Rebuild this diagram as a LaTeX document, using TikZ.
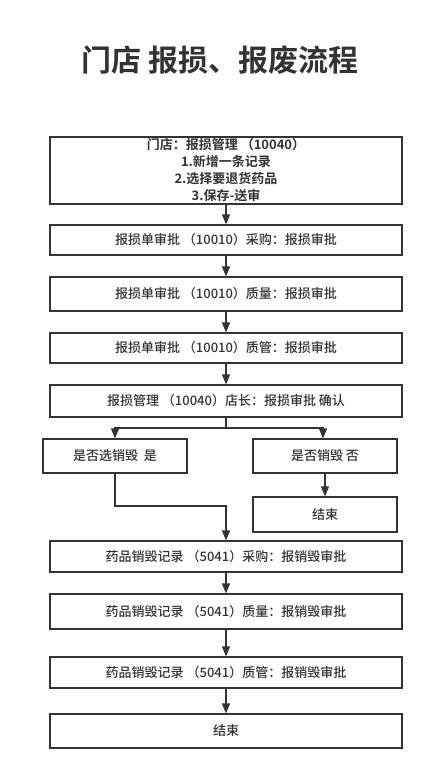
\documentclass[tikz,border=0pt]{standalone}
\usepackage{fontspec}
\setmainfont{Noto Sans CJK SC}[UprightFont=* Medium,BoldFont=* Bold]
\usetikzlibrary{arrows.meta}
\definecolor{ink}{HTML}{333333}

\begin{document}
\begin{tikzpicture}[x=1pt,y=-1pt,
  box/.style={draw=ink,text=ink,line width=1.2pt,minimum width=352pt,minimum height=32pt,
    inner sep=0pt,align=center,font=\fontsize{13}{17}\selectfont},
  line/.style={draw=ink,line width=1.2pt},
  arr/.style={line,-{Triangle[width=8pt,length=10pt]}}]
 \useasboundingbox (0,0) rectangle (438,773);
 \node[text=ink,font=\fontsize{30}{32}\selectfont\bfseries] (title) at (220,60) {门店 报损、报废流程};

 \node[box,minimum height=67pt,font=\fontsize{13}{17}\selectfont\bfseries] (b1) at (226,170.5)
  {门店：报损管理 （10040）\\1.新增一条记录\\2.选择要退货药品\\3.保存-送审};
 \node[box,minimum height=30pt] (b2) at (226,240) {报损单审批 （10010）采购：报损审批};
 \node[box,minimum height=34pt] (b3) at (226,294) {报损单审批 （10010）质量：报损审批};
 \node[box,minimum height=30pt] (b4) at (226,348) {报损单审批 （10010）质管：报损审批};
 \node[box] (b5) at (226,401) {报损管理 （10040）店长：报损审批 确认};

 \node[box,minimum width=144pt,minimum height=34pt] (yes) at (115,456) {是否选销毁\ \ 是};
 \node[box,minimum width=144pt,minimum height=34pt] (no) at (325,456) {是否销毁 否};
 \node[box,minimum width=144pt,minimum height=35pt] (noend) at (325,514.5) {结束};

 \node[box,minimum height=31pt] (b6) at (226,556.5) {药品销毁记录 （5041）采购：报销毁审批};
 \node[box,minimum height=35pt] (b7) at (226,611.5) {药品销毁记录 （5041）质量：报销毁审批};
 \node[box,minimum height=31pt] (b8) at (226,672.5) {药品销毁记录 （5041）质管：报销毁审批};
 \node[box,minimum height=34pt] (b9) at (226,731) {结束};

 \coordinate (fork) at (226,428);
 \coordinate (join) at (226,506);

 \foreach \from/\to in {b1/b2,b2/b3,b3/b4,b4/b5,b6/b7,b7/b8,b8/b9}
  \draw[arr] (\from) -- (\to);
 \draw[line] (b5.south) -- (fork);
 \draw[arr] (fork) -| (yes.north);
 \draw[arr] (fork) -| ([xshift=-2pt]no.north);
 \draw[arr] (no) -- (noend);
 \draw[arr] (yes.south) |- (join) -- (b6.north);
\end{tikzpicture}
\end{document}
